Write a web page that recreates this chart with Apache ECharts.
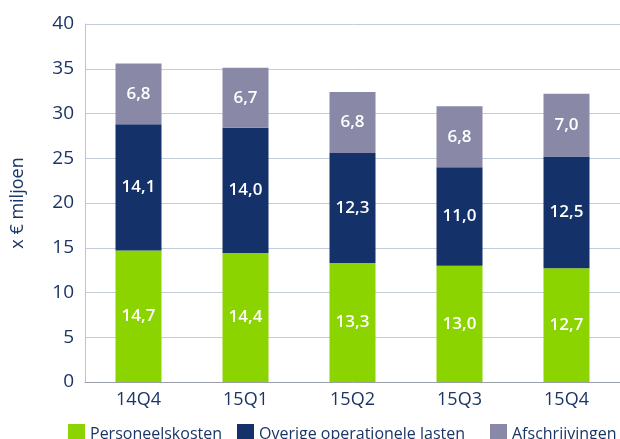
<!DOCTYPE html>
<html><head><meta charset="utf-8">
<script src="https://cdn.jsdelivr.net/npm/echarts@6/dist/echarts.min.js"></script>
<style>html,body{margin:0;padding:0;background:#fff}#c{width:620px;height:439px}</style>
</head><body><div id="c"></div>
<script>
var categories = ['14Q4','15Q1','15Q2','15Q3','15Q4'];
var personeelskosten = [14.7, 14.4, 13.3, 13.0, 12.7];
var overige = [14.1, 14.0, 12.3, 11.0, 12.5];
var afschrijvingen = [6.8, 6.7, 6.8, 6.8, 7.0];
var seriesNames = ['Personeelskosten','Overige operationele lasten','Afschrijvingen'];
var yTicks = [0,5,10,15,20,25,30,35,40];

var FONT = 'Open Sans';
var NAVY = '#1b3566';
function fmt(p){ return p.value.toFixed(1).replace('.', ','); }
var lbl = {show:true, position:'inside', color:'#fff', fontFamily:FONT, fontSize:17, fontWeight:600, formatter:fmt};
var chart = echarts.init(document.getElementById('c'), null, {renderer:'canvas'});
function legendAt(name, left){
  return {data:[name], left:left, top:419, itemWidth:17, itemHeight:20, itemGap:0, icon:'rect',
    textStyle:{fontFamily:FONT, fontSize:16, color:NAVY}};
}
chart.setOption({
  animation:false,
  textStyle:{fontFamily:FONT},
  grid:{left:85, right:0, top:24, bottom:57, containLabel:false},
  legend:[legendAt(seriesNames[0],63), legendAt(seriesNames[1],232), legendAt(seriesNames[2],485)],
  xAxis:{type:'category', data:categories,
    axisLine:{show:true, lineStyle:{color:'#9aa0a8', width:1}},
    axisTick:{show:false},
    axisLabel:{color:NAVY, fontFamily:FONT, fontSize:18, margin:9}},
  yAxis:{type:'value', min:yTicks[0], max:yTicks[yTicks.length-1], interval:5,
    name:'x € miljoen', nameLocation:'middle', nameRotate:90, nameGap:58,
    nameTextStyle:{color:NAVY, fontFamily:FONT, fontSize:18},
    axisLine:{show:true, lineStyle:{color:'#b9c5d3', width:1}},
    axisTick:{show:false},
    splitLine:{lineStyle:{color:'#c3cdd9', width:1}},
    axisLabel:{color:NAVY, fontFamily:FONT, fontSize:19, margin:11}},
  series:[
    {name:seriesNames[0], type:'bar', stack:'a', data:personeelskosten, barWidth:46, itemStyle:{color:'#8bd400'}, label:lbl},
    {name:seriesNames[1], type:'bar', stack:'a', data:overige, barWidth:46, itemStyle:{color:'#14316a'}, label:lbl},
    {name:seriesNames[2], type:'bar', stack:'a', data:afschrijvingen, barWidth:46, itemStyle:{color:'#8988a7'}, label:lbl}
  ]
});
</script></body></html>
